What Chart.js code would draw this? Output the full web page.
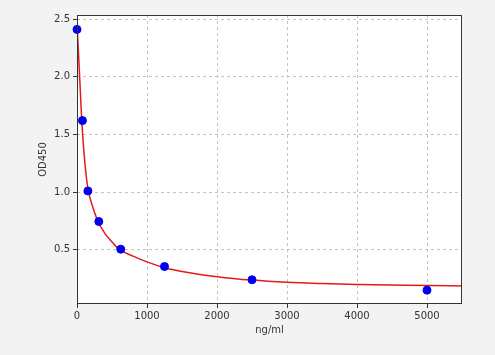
<!DOCTYPE html>
<html>
<head>
<meta charset="utf-8">
<script src="https://cdn.jsdelivr.net/npm/chart.js@4.4.0/dist/chart.umd.min.js"></script>
<style>
  html, body { margin: 0; padding: 0; background: #f3f3f3; }
  #wrap { width: 495px; height: 355px; }
</style>
</head>
<body>
<div id="wrap"><canvas id="curveChart" width="495" height="355"></canvas></div>
<script>
// standard points (concentration, OD)
const stdConc = [0, 78, 156, 312, 625, 1250, 2500, 5000];
const stdOD = [2.41, 1.62, 1.01, 0.745, 0.505, 0.355, 0.24, 0.15];

// fitted curve
const fitConc = [0, 20, 40, 67, 100, 130, 162, 220, 290, 400, 470, 600, 800, 1000, 1250, 1500, 2000, 2500, 3000, 3500, 4000, 5000, 5500];
const fitOD = [2.46, 2.22, 1.97, 1.63, 1.34, 1.15, 1.01, 0.88, 0.76, 0.64, 0.59, 0.505, 0.445, 0.395, 0.345, 0.312, 0.267, 0.237, 0.218, 0.207, 0.199, 0.19, 0.186];

const xTicks = [0, 1000, 2000, 3000, 4000, 5000];
const yTicks = [0.5, 1.0, 1.5, 2.0, 2.5];

const frame = {
    id: 'frame',
    beforeDraw(chart) {
        const { ctx, chartArea: a } = chart;
        ctx.save();
        ctx.fillStyle = '#f3f3f3';
        ctx.fillRect(0, 0, chart.width, chart.height);
        ctx.fillStyle = '#ffffff';
        ctx.fillRect(a.left, a.top, a.right - a.left, a.bottom - a.top);
        ctx.restore();
    },
    afterDatasetsDraw(chart) {
        const { ctx, chartArea: a } = chart;
        ctx.save();
        ctx.strokeStyle = '#333333';
        ctx.lineWidth = 1;
        ctx.strokeRect(a.left + 0.5, a.top + 0.5, a.right - a.left - 1, a.bottom - a.top - 1);
        ctx.restore();
    }
};

const tickFont = { family: 'DejaVu Sans', size: 10 };
const gridOpts = { color: '#c4c4c4', tickColor: '#333', tickLength: 4, tickBorderDash: [] };

new Chart(document.getElementById('curveChart'), {
    type: 'scatter',
    data: {
        datasets: [
            {
                label: 'standards',
                data: stdConc.map((x, i) => ({ x, y: stdOD[i] })),
                backgroundColor: '#0000f0',
                borderColor: '#0000f0',
                pointRadius: 4,
                clip: false,
            },
            {
                label: 'fit',
                type: 'line',
                data: fitConc.map((x, i) => ({ x, y: fitOD[i] })),
                borderColor: '#e31a1c',
                borderWidth: 1.5,
                pointRadius: 0,
                fill: false,
                cubicInterpolationMode: 'monotone',
            },
        ],
    },
    options: {
        responsive: false,
        animation: false,
        layout: { padding: { top: 15, right: 33, left: 33, bottom: 15 } },
        plugins: { legend: { display: false }, tooltip: { enabled: false } },
        scales: {
            x: {
                type: 'linear',
                min: 0,
                max: 5500,
                afterBuildTicks: (s) => { s.ticks = xTicks.map(v => ({ value: v })); },
                afterFit: (s) => { s.height = 36; },
                grid: gridOpts,
                border: { display: false, dash: [3, 3] },
                ticks: { color: '#333', font: tickFont, padding: 2, maxRotation: 0, callback: (v) => String(v) },
                title: { display: true, text: 'ng/ml', color: '#333', font: tickFont, padding: { top: 0, bottom: 4 } },
            },
            y: {
                type: 'linear',
                min: 0.03,
                max: 2.535,
                afterBuildTicks: (s) => { s.ticks = yTicks.map(v => ({ value: v })); },
                afterFit: (s) => { s.width = 44; },
                grid: gridOpts,
                border: { display: false, dash: [3, 3] },
                ticks: { color: '#333', font: tickFont, padding: 3, callback: (v) => v.toFixed(1) },
                title: { display: true, text: 'OD450', color: '#333', font: tickFont, padding: { top: 4, bottom: 4 } },
            },
        },
    },
    plugins: [frame],
});
</script>
</body>
</html>
